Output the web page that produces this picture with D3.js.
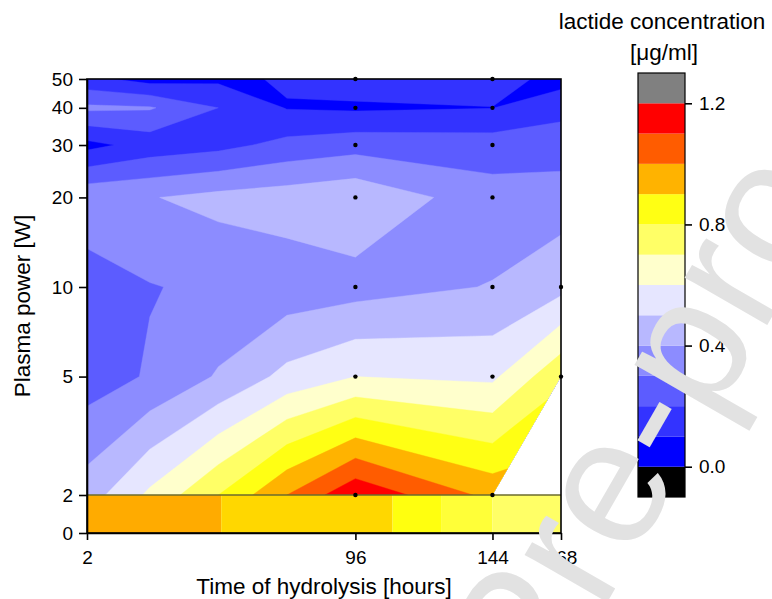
<!DOCTYPE html>
<html>
<head>
<meta charset="utf-8">
<script src="https://cdn.jsdelivr.net/npm/d3@7"></script>
<style>
body { margin: 0; background: #fff; }
text { font-family: "Liberation Sans", Arial, sans-serif; }
</style>
</head>
<body>
<div id="chart"></div>
<script>
// hydrolysis times (columns) and plasma power (rows, top to bottom)
const hours = [2, 24, 48, 72, 96, 144, 168];
const powers = [50, 40, 30, 20, 10, 5, 2];
// lactide concentration [ug/ml], one row per plasma power; null = not measured
const lactide = [
    [0.13, 0.06, 0.08, 0.11, 0.15, 0.15, 0.06],
    [0.32, 0.31, 0.20, 0.095, 0.085, 0.098, 0.17],
    [0.07, 0.14, 0.17, 0.23, 0.26, 0.25, 0.25],
    [0.38, 0.395, 0.43, 0.45, 0.48, 0.34, 0.35],
    [0.24, 0.295, 0.32, 0.34, 0.36, 0.405, 0.47],
    [0.25, 0.31, 0.41, 0.53, 0.60, 0.58, 0.78],
    [0.45, 0.62, 0.80, 1.00, 1.18, 0.97, null]
];
// measured points shown as dots [hours, W]
const measured = [
    [96, 50], [96, 40], [96, 30], [96, 20], [96, 10], [96, 5], [96, 2],
    [144, 50], [144, 40], [144, 30], [144, 20], [144, 10], [144, 5], [144, 2],
    [168, 10], [168, 5]
];
// 0 W control band: edges in hours
const stripEdges = [2, 49, 109, 126, 144, 168];
const stripPalette = ["#ffab00", "#ffd700", "#ffff0f", "#ffff38", "#ffff66"];

const levels = d3.range(0, 13).map(i => i / 10);
const palette = ["#000000", "#0000ff", "#3333ff", "#5c5cff", "#8c8cff", "#b8b8ff", "#e6e6ff",
    "#ffffcc", "#ffff66", "#ffff14", "#ffb300", "#ff5c00", "#ff0000", "#808080"];
const xTicks = [2, 96, 144, 168];
const yTicks = [2, 5, 10, 20, 30, 40, 50];
const barTicks = [0, 0.4, 0.8, 1.2];

const W = 772, H = 599;
const svg = d3.select("#chart").append("svg").attr("width", W).attr("height", H);

const x = d3.scaleLinear().domain([2, 168]).range([87, 561]);
const yLog = d3.scaleLog().domain([2, 50]).range([495, 79]);
const yLin = d3.scaleLinear().domain([0, 2]).range([533, 495]);

// contour bands
const nx = hours.length, ny = powers.length;
const values = lactide.flatMap(row => row.map((v, i) => v ?? row[i - 1]));
const contours = d3.contours().size([nx, ny]).thresholds(levels)(values);

const xPx = hours.map(d => x(d));
const yPx = powers.map(d => yLog(d));
function gridToPx(c, n, px) {
    const s = Math.max(0, Math.min(n - 1, c - 0.5));
    const i = Math.min(Math.floor(s), n - 2);
    const f = s - i;
    return px[i] * (1 - f) + px[i + 1] * f;
}
const path = d3.geoPath(d3.geoTransform({
    point(a, b) { this.stream.point(gridToPx(a, nx, xPx), gridToPx(b, ny, yPx)); }
}));

const hullPts = [];
lactide.forEach((row, j) => row.forEach((v, i) => {
    if (v != null) hullPts.push([x(hours[i]), yLog(powers[j])]);
}));
const hull = d3.polygonHull(hullPts);
svg.append("clipPath").attr("id", "hull")
    .append("path").attr("d", "M" + hull.join("L") + "Z");

svg.append("g").attr("clip-path", "url(#hull)")
    .selectAll("path").data(contours).join("path")
    .attr("d", path)
    .attr("fill", (d, i) => palette[i + 1])
    .attr("stroke", (d, i) => palette[i + 1])
    .attr("stroke-width", 0.4);

// 0 W band
svg.append("g").selectAll("rect").data(stripPalette).join("rect")
    .attr("x", (d, i) => x(stripEdges[i]))
    .attr("width", (d, i) => x(stripEdges[i + 1]) - x(stripEdges[i]))
    .attr("y", yLin(2)).attr("height", yLin(0) - yLin(2))
    .attr("fill", d => d);
svg.append("line")
    .attr("x1", x(2)).attr("x2", x(168)).attr("y1", yLin(2)).attr("y2", yLin(2))
    .attr("stroke", "#6b6b2e").attr("stroke-width", 1.5);

svg.append("g").selectAll("circle").data(measured).join("circle")
    .attr("cx", d => x(d[0])).attr("cy", d => yLog(d[1])).attr("r", 2.2)
    .attr("fill", "#000");

// frame + axes
svg.append("rect").attr("x", 87).attr("y", 79).attr("width", 474).attr("height", 454)
    .attr("fill", "none").attr("stroke", "#000").attr("stroke-width", 1.6);

function styleAxis(g) {
    g.selectAll("text").attr("font-size", 19).attr("font-family", "Liberation Sans, Arial, sans-serif").attr("fill", "#000");
    g.selectAll("line,path").attr("stroke", "#000").attr("stroke-width", 1.6);
}
svg.append("g").attr("transform", `translate(0,${yLin(0)})`)
    .call(d3.axisBottom(x).tickValues(xTicks).tickFormat(d3.format("d")).tickSize(7).tickPadding(11).tickSizeOuter(0))
    .call(styleAxis);
svg.append("g").attr("transform", `translate(${x(2)},0)`)
    .call(d3.axisLeft(yLog).tickValues(yTicks).tickFormat(d3.format("d")).tickSize(8).tickPadding(6).tickSizeOuter(0))
    .call(styleAxis);
svg.append("g").attr("transform", `translate(${x(2)},0)`)
    .call(d3.axisLeft(yLin).tickValues([0]).tickFormat(d3.format("d")).tickSize(8).tickPadding(6).tickSizeOuter(0))
    .call(styleAxis);

svg.append("text").attr("x", 324).attr("y", 594).attr("text-anchor", "middle")
    .attr("font-size", 22.5).text("Time of hydrolysis [hours]");
svg.append("text").attr("transform", "translate(30,306) rotate(-90)").attr("text-anchor", "middle")
    .attr("font-size", 22.5).text("Plasma power [W]");

// colour scale bar
const bar = d3.scaleLinear().domain([-0.1, 1.3]).range([497, 73]);
const barLevels = d3.range(-1, 13).map(i => i / 10);
const gBar = svg.append("g");
gBar.selectAll("rect").data(barLevels).join("rect")
    .attr("x", 638).attr("width", 47)
    .attr("y", d => bar(d + 0.1)).attr("height", d => bar(d) - bar(d + 0.1))
    .attr("fill", (d, i) => palette[i]);
gBar.append("rect").attr("x", 638).attr("width", 47).attr("y", 73).attr("height", 424)
    .attr("fill", "none").attr("stroke", "#000").attr("stroke-width", 1.2);
gBar.append("g").attr("transform", "translate(685,0)")
    .call(d3.axisRight(bar).tickValues(barTicks).tickFormat(d3.format(".1f")).tickSize(7).tickPadding(7))
    .call(styleAxis)
    .call(g => g.select(".domain").remove());

svg.append("text").attr("x", 662).attr("y", 29).attr("text-anchor", "middle")
    .attr("font-size", 22.5).text("lactide concentration");
svg.append("text").attr("x", 664).attr("y", 60).attr("text-anchor", "middle")
    .attr("font-size", 22.5).text("[μg/ml]");

// watermark
svg.append("text").attr("transform", "translate(541,717) rotate(-60)")
    .attr("font-size", 180).attr("fill", "#e2e2e2").text("Pre-proof");
</script>
</body>
</html>
